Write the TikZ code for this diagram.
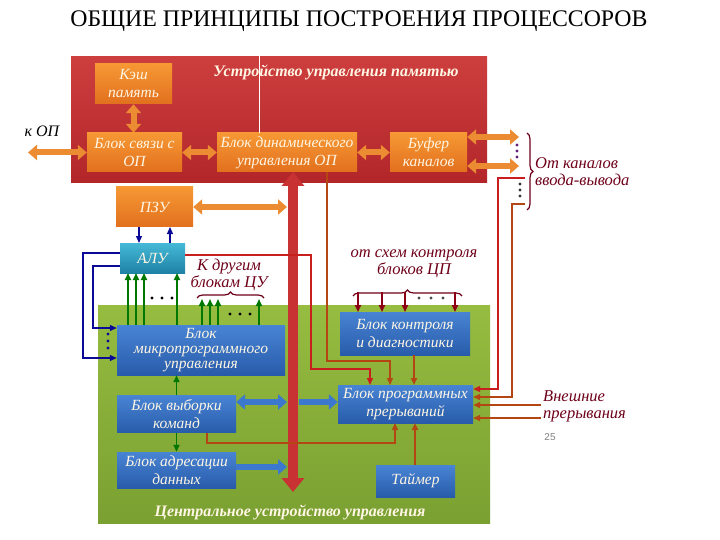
\documentclass[tikz,border=0pt]{standalone}
\usepackage{fontspec}
\setmainfont{Liberation Serif}
\newfontfamily\numfont{Liberation Sans}
\usetikzlibrary{arrows.meta,decorations.pathreplacing,calc}
\definecolor{redtop}{RGB}{205,62,62}
\definecolor{redbot}{RGB}{178,38,42}
\definecolor{ortop}{RGB}{246,152,52}
\definecolor{orbot}{RGB}{226,112,30}
\definecolor{orarrow}{RGB}{236,140,50}
\definecolor{tealtop}{RGB}{70,185,215}
\definecolor{tealbot}{RGB}{30,130,165}
\definecolor{bluetop}{RGB}{72,132,212}
\definecolor{bluebot}{RGB}{40,92,170}
\definecolor{greentop}{RGB}{150,188,64}
\definecolor{greenbot}{RGB}{122,160,50}
\definecolor{garrow}{RGB}{0,120,0}
\definecolor{navy}{RGB}{10,10,150}
\definecolor{barrow}{RGB}{60,120,205}
\definecolor{busred}{RGB}{200,50,50}
\definecolor{brownl}{RGB}{180,70,20}
\definecolor{redl}{RGB}{200,30,30}
\definecolor{maroon}{RGB}{110,0,25}
\definecolor{cream}{RGB}{255,246,228}
\definecolor{purpdot}{RGB}{100,30,120}
\tikzset{
  boxtext/.style={font=\fontsize{15.5}{18}\selectfont\itshape, text=cream, align=center, inner sep=0pt},
  orbox/.style={boxtext, top color=ortop, bottom color=orbot, draw=none},
  bluebox/.style={boxtext, top color=bluetop, bottom color=bluebot, draw=none},
  tealbox/.style={boxtext, top color=tealtop, bottom color=tealbot, draw=none},
  oarrow/.style={orarrow, line width=6pt, {Triangle[width=15pt,length=9pt]}-{Triangle[width=15pt,length=9pt]}},
  barrowd/.style={barrow, line width=6pt, {Triangle[width=15pt,length=9pt]}-{Triangle[width=15pt,length=9pt]}},
  barrows/.style={barrow, line width=6pt, -{Triangle[width=15pt,length=9pt]}},
  busarrow/.style={busred, line width=10pt, {Triangle[width=22pt,length=14pt]}-{Triangle[width=22pt,length=14pt]}},
  garr/.style={garrow, line width=1.6pt, -{Triangle[width=6pt,length=7pt]}},
  narr/.style={navy, line width=1.2pt, -{Triangle[width=6pt,length=7pt]}},
  brarr/.style={brownl, line width=1.2pt, -{Triangle[width=6pt,length=7pt]}},
  rdarr/.style={redl, line width=1.2pt, -{Triangle[width=6pt,length=7pt]}},
  mararr/.style={maroon!80!red, line width=1.6pt, -{Triangle[width=6pt,length=7pt]}},
  note/.style={font=\fontsize{16.5}{17}\selectfont\itshape, text=maroon, align=center, inner sep=0pt},
  bracest/.style={decorate, decoration={brace, amplitude=6pt}, maroon, line width=1.2pt},
  dot/.style={circle, fill=#1, inner sep=0pt, minimum size=3.2pt},
}
\begin{document}
\begin{tikzpicture}[x=1pt,y=-1pt]
\useasboundingbox (0,0) rectangle (720,540);
% title
\node[font=\fontsize{23.8}{26}\selectfont] (title) at (359,21) {ОБЩИЕ ПРИНЦИПЫ ПОСТРОЕНИЯ ПРОЦЕССОРОВ};
% panels
\node[top color=redtop, bottom color=redbot, minimum width=416pt, minimum height=126pt, inner sep=0pt] (mmu) at (279,120) {};
\node[top color=greentop, bottom color=greenbot, minimum width=392pt, minimum height=218pt, inner sep=0pt] (cu) at (294,414) {};
\node[font=\fontsize{16}{18}\selectfont\bfseries\itshape, text=cream, inner sep=0pt] (mmutitle) at (336,72) {Устройство управления памятью};
\node[font=\fontsize{16}{18}\selectfont\bfseries\itshape, text=cream, inner sep=0pt] (cutitle) at (290,512) {Центральное устройство управления};
% orange boxes
\node[orbox, minimum width=77pt, minimum height=40pt] (kesh) at (133.5,84) {Кэш\\память};
\node[orbox, minimum width=95pt, minimum height=39pt] (svyaz) at (134.5,152.5) {Блок связи с\\ОП};
\node[orbox, minimum width=140pt, minimum height=39pt] (dyn) at (287,152.5) {Блок динамического\\управления ОП};
\node[orbox, minimum width=77pt, minimum height=39pt] (buf) at (428.5,152.5) {Буфер\\каналов};
\node[orbox, minimum width=77pt, minimum height=40pt] (pzu) at (154.5,207) {ПЗУ};
% teal / blue boxes
\node[tealbox, minimum width=65pt, minimum height=30pt] (alu) at (152.5,258) {АЛУ};
\node[bluebox, font=\fontsize{15.5}{15}\selectfont\itshape, minimum width=168pt, minimum height=50pt] (micro) at (201,350) {Блок\\микропрограммного\\управления};
\node[bluebox, minimum width=119pt, minimum height=37pt] (vyb) at (176.5,414) {Блок выборки\\команд};
\node[bluebox, minimum width=119pt, minimum height=36pt] (adr) at (176.5,470) {Блок адресации\\данных};
\node[bluebox, minimum width=130pt, minimum height=43pt] (kontr) at (405,333.5) {Блок контроля\\и диагностики};
\node[bluebox, minimum width=135pt, minimum height=38pt] (prer) at (405.5,404) {Блок программных\\прерываний};
\node[bluebox, minimum width=79pt, minimum height=32pt] (timer) at (415.5,481) {Таймер};
% white thin line
\coordinate (wl) at (259,40);
\draw[white, line width=0.7pt] (wl) -- (wl |- dyn.north);
% labels
\node[font=\fontsize{16}{17}\selectfont\itshape, inner sep=0pt] (kop) at (42,131) {к ОП};
\node[note, align=left, anchor=west] (io) at (535,171.5) {От каналов\\ввода-вывода};
\node[note] (other) at (229,275) {К другим\\блокам ЦУ};
\node[note] (schemes) at (414,264) {от схем контроля\\блоков ЦП};
\node[note, align=left, anchor=west] (ext) at (543,406) {Внешние\\прерывания};
\node[font=\numfont\fontsize{10}{12}\selectfont, text=gray, inner sep=0pt] (pg) at (550,437) {25};
% orange arrows
\coordinate (kopend) at (28,152.5);
\draw[oarrow] (kopend) -- (svyaz.west);
\draw[oarrow] (kesh.south) -- (kesh.south |- svyaz.north);
\draw[oarrow] (svyaz.east) -- (dyn.west);
\draw[oarrow] (dyn.east) -- (buf.west);
\coordinate (io1) at (519,137);
\coordinate (io2) at (519,166);
\draw[oarrow] (buf.east |- io1) -- (io1);
\draw[oarrow] (buf.east |- io2) -- (io2);
% bus
\coordinate (bustop) at (293,172);
\coordinate (busbot) at (293,492);
\draw[busarrow] (busbot) -- (bustop);
\coordinate (pzubus) at (287,207);
\draw[oarrow] (pzu.east) -- (pzubus);
% blue thick arrows
\coordinate (vybbus) at (287,402);
\coordinate (busprer) at (299,402);
\coordinate (adrbus) at (287,467);
\draw[barrowd] (vyb.east |- vybbus) -- (vybbus);
\draw[barrows] (busprer) -- (prer.west |- busprer);
\draw[barrows] (adr.east |- adrbus) -- (adrbus);
% PZU <-> ALU
\draw[narr] (139,227) -- (139,243);
\draw[narr] (170,243) -- (170,227);
% ALU feedback to micro
\draw[narr] (alu.west |- 0,253) -- (83,253) -- (83,358) -- (micro.west |- 0,358);
\draw[narr] (alu.west |- 0,266) -- (93,266) -- (93,328) -- (micro.west |- 0,328);
\node[dot=navy] (d1) at (108,334) {};
\node[dot=navy] (d2) at (108,341) {};
\node[dot=navy] (d3) at (108,348) {};
% green arrows micro -> ALU
\foreach \x in {128,136,144,177} \draw[garr] (\x,325) -- (\x,273);
\foreach \x in {152,162,172} \node[dot=black] at (\x,298) {};
% green arrows to other blocks
\foreach \x in {202,210,218,259} \draw[garr] (\x,325) -- (\x,299);
\foreach \x in {230,240,250} \node[dot=black] at (\x,314) {};
\draw[bracest] (197,298) -- (264,298);
% vyb <-> micro, adr
\draw[garr] (vyb.north) -- (micro.south -| vyb.north);
\draw[garr] (vyb.south) -- (adr.north);
% control circuits arrows
\draw[bracest] (353,296) -- (462,296);
\foreach \x in {358,382,405,455} \draw[mararr] (\x,292) -- (\x,312);
\foreach \x in {419,431,443} \node[dot=black!70] at (\x,298) {};
% brown/red lines to interrupts
\draw[rdarr] (alu.east |- 0,255) -- (311,255) -- (311,369) -- (370,369) -- (370,385);
\draw[brarr] (327,172) -- (327,361) -- (390,361) -- (390,385);
\draw[brarr, line width=2pt] (kontr.south -| 414,0) -- (414,385);
\draw[brarr] (207,433) -- (207,443) -- (395,443) -- (395,423);
\draw[brarr, line width=2pt] (timer.north -| 415,0) -- (415,423);
% IO lines
\coordinate (ioa) at (525,178);
\coordinate (iob) at (525,204);
\draw[rdarr] (ioa) -- (498,178) -- (498,389) -- (prer.east |- 0,389);
\draw[brarr] (iob) -- (512,204) -- (512,397) -- (prer.east |- 0,397);
\coordinate (exa) at (541,405);
\coordinate (exb) at (541,418);
\draw[brarr, line width=1.6pt] (exa) -- (prer.east |- exa);
\draw[brarr, line width=1.6pt] (exb) -- (prer.east |- exb);
% dots near IO
\foreach \y in {145,151,157} \node[dot=purpdot] at (517,\y) {};
\foreach \y in {184,190,196} \node[dot=black!80] at (520,\y) {};
\draw[bracest] (527,133) -- (527,210);
\end{tikzpicture}
\end{document}
